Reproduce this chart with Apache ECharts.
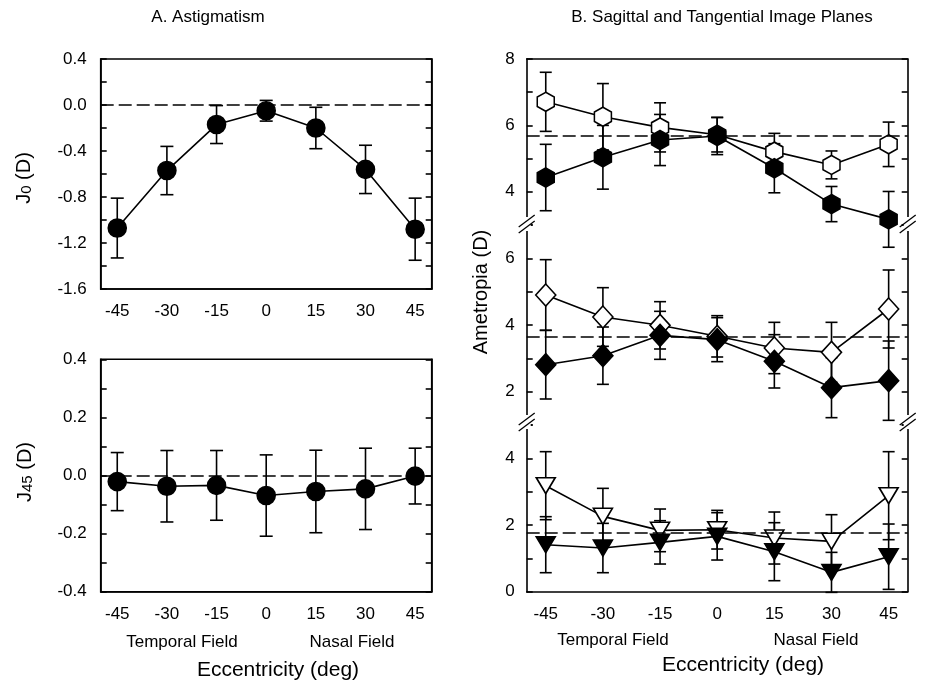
<!DOCTYPE html>
<html><head><meta charset="utf-8">
<script src="https://cdn.jsdelivr.net/npm/echarts@6/dist/echarts.min.js"></script>
<style>html,body{margin:0;padding:0;background:#fff}#c{width:929px;height:695px}</style>
</head><body><div id="c"></div>
<script>
// ---- data ----
const ecc = [-45, -30, -15, 0, 15, 30, 45];
const xTicks = [-45, -30, -15, 0, 15, 30, 45];
// Panel A
const j0 = [-1.07, -0.57, -0.17, -0.05, -0.20, -0.56, -1.08];
const j0Err = [0.26, 0.21, 0.165, 0.09, 0.18, 0.21, 0.27];
const j45 = [-0.021, -0.037, -0.034, -0.069, -0.055, -0.046, -0.002];
const j45Err = [0.10, 0.123, 0.12, 0.14, 0.142, 0.14, 0.096];
// Panel B (open = one image plane, filled = the other)
const hexOpen = [6.71, 6.26, 5.94, 5.72, 5.21, 4.81, 5.43];
const hexOpenErr = [0.89, 1.00, 0.74, 0.52, 0.55, 0.42, 0.67];
const hexFilled = [4.43, 5.04, 5.56, 5.68, 4.71, 3.63, 3.17];
const hexFilledErr = [1.00, 0.96, 0.77, 0.56, 0.74, 0.53, 0.84];
const diaOpen = [4.90, 4.24, 3.99, 3.66, 3.31, 3.18, 4.48];
const diaOpenErr = [1.06, 0.88, 0.71, 0.62, 0.77, 0.90, 1.17];
const diaFilled = [2.81, 3.08, 3.69, 3.56, 2.91, 2.12, 2.33];
const diaFilledErr = [1.03, 0.86, 0.72, 0.66, 0.80, 0.90, 1.19];
const triOpen = [3.18, 2.26, 1.84, 1.86, 1.61, 1.51, 2.88];
const triOpenErr = [1.02, 0.84, 0.64, 0.58, 0.78, 0.80, 1.32];
const triFilled = [1.41, 1.31, 1.48, 1.66, 1.20, 0.58, 1.05];
const triFilledErr = [0.84, 0.74, 0.65, 0.71, 0.87, 0.60, 0.98];
const refA = [0, 0];
const refB = [5.68, 3.64, 1.76];

// ---- layout ----
const FONT = 'Liberation Sans, Arial, sans-serif';
const LW = 1.6;
const LX = 100.7, LW_ = 331;
const RX = 526.7, RW = 381;
const grids = [
  {left: LX, top: 59, width: LW_, height: 230},
  {left: LX, top: 359.3, width: LW_, height: 232.4},
  {left: RX, top: 59, width: RW, height: 166},
  {left: RX, top: 225, width: RW, height: 200},
  {left: RX, top: 425, width: RW, height: 166.7}
];
const HEX = 'path://M0,-1 L0.866,-0.5 L0.866,0.5 L0,1 L-0.866,0.5 L-0.866,-0.5 Z';
const DTRI = 'path://M-1,-0.85 L1,-0.85 L0,0.85 Z';

const tickStyle = {show: true, inside: true, length: 6, lineStyle: {color: '#000', width: LW}};
const lineAx = {show: true, onZero: false, lineStyle: {color: '#000', width: LW}};
const labelStyle = {color: '#000', fontFamily: FONT, fontSize: 17};

function xAx(gi, opts) {
  return Object.assign({
    type: 'value', gridIndex: gi, min: -50, max: 50,
    axisLine: lineAx, axisTick: {show: false}, splitLine: {show: false},
    axisLabel: Object.assign({show: true, margin: 14, customValues: xTicks}, labelStyle)
  }, opts || {});
}
function fmtEvery(step, dec) {
  return function (v) {
    const k = Math.round(v / step * 1000) / 1000;
    if (Math.abs(k - Math.round(k)) > 1e-6) return '';
    if (Math.abs(v) < 1e-9) return dec ? (0).toFixed(dec) : '0';
    return dec ? v.toFixed(dec) : String(Math.round(v));
  };
}
function yAxPair(gi, min, max, interval, labStep, dec, margin) {
  return [
    {type: 'value', gridIndex: gi, position: 'left', min: min, max: max, interval: interval,
     axisLine: lineAx, axisTick: tickStyle, splitLine: {show: false},
     axisLabel: Object.assign({margin: margin, showMinLabel: true, showMaxLabel: true,
       formatter: fmtEvery(labStep, dec)}, labelStyle)},
    {type: 'value', gridIndex: gi, position: 'right', min: min, max: max, interval: interval,
     axisLine: lineAx, axisTick: tickStyle, splitLine: {show: false}, axisLabel: {show: false}}
  ];
}

function errSeries(xi, yi, ys, es, capW) {
  return {
    type: 'custom', xAxisIndex: xi, yAxisIndex: yi, z: 2, clip: false, silent: true,
    data: ecc.map((x, i) => [x, ys[i], es[i]]),
    encode: {x: 0, y: 1},
    renderItem: function (params, api) {
      const x = api.value(0), y = api.value(1), e = api.value(2);
      const t = api.coord([x, y + e]), b = api.coord([x, y - e]);
      const w = capW / 2;
      const st = {stroke: '#000', lineWidth: LW};
      return {type: 'group', children: [
        {type: 'line', shape: {x1: t[0], y1: t[1], x2: b[0], y2: b[1]}, style: st},
        {type: 'line', shape: {x1: t[0] - w, y1: t[1], x2: t[0] + w, y2: t[1]}, style: st},
        {type: 'line', shape: {x1: b[0] - w, y1: b[1], x2: b[0] + w, y2: b[1]}, style: st}
      ]};
    }
  };
}
function lineSeries(xi, yi, ys, symbol, size, fill, z, ref) {
  const s = {
    type: 'line', xAxisIndex: xi, yAxisIndex: yi, z: z, silent: true,
    data: ecc.map((x, i) => [x, ys[i]]),
    symbol: symbol, symbolSize: size, showAllSymbol: true,
    itemStyle: {color: fill, borderColor: '#000', borderWidth: LW, opacity: 1},
    lineStyle: {color: '#000', width: LW}
  };
  if (ref !== undefined) {
    s.markLine = {silent: true, symbol: 'none', label: {show: false},
      lineStyle: {color: '#000', width: LW, type: [13, 5]},
      data: [{yAxis: ref}]};
  }
  return s;
}

const xAxes = [
  xAx(0), xAx(1),
  xAx(2, {position: 'top', axisLabel: {show: false}}),
  xAx(3, {show: false}),
  xAx(4)
];
const yAxes = [].concat(
  yAxPair(0, -1.6, 0.4, 0.2, 0.4, 1, 14),
  yAxPair(1, -0.4, 0.4, 0.1, 0.2, 1, 14),
  yAxPair(2, 3, 8, 1, 2, 0, 12),
  yAxPair(3, 1, 7, 1, 2, 0, 12),
  yAxPair(4, 0, 5, 1, 2, 0, 12)
);

const series = [
  errSeries(0, 0, j0, j0Err, 13),
  lineSeries(0, 0, j0, 'circle', 18, '#000', 3, refA[0]),
  errSeries(1, 2, j45, j45Err, 13),
  lineSeries(1, 2, j45, 'circle', 18, '#000', 3, refA[1]),
  errSeries(2, 4, hexOpen, hexOpenErr, 12),
  errSeries(2, 4, hexFilled, hexFilledErr, 12),
  lineSeries(2, 4, hexOpen, HEX, [17, 19], '#fff', 3),
  lineSeries(2, 4, hexFilled, HEX, [17, 19], '#000', 4, refB[0]),
  errSeries(3, 6, diaOpen, diaOpenErr, 12),
  errSeries(3, 6, diaFilled, diaFilledErr, 12),
  lineSeries(3, 6, diaOpen, 'diamond', [20, 22], '#fff', 3),
  lineSeries(3, 6, diaFilled, 'diamond', [20, 22], '#000', 4, refB[1]),
  errSeries(4, 8, triOpen, triOpenErr, 12),
  errSeries(4, 8, triFilled, triFilledErr, 12),
  lineSeries(4, 8, triOpen, DTRI, [19, 16], '#fff', 3),
  lineSeries(4, 8, triFilled, DTRI, [19, 16], '#000', 4, refB[2])
];

// break marks on the right panel's vertical axes
const breakY = [224, 422];
const breakX = [RX, RX + RW];
const graphics = [];
breakY.forEach(function (yb) {
  breakX.forEach(function (xb) {
    graphics.push({type: 'rect', z: 100, shape: {x: xb - 4, y: yb - 7, width: 8, height: 14}, style: {fill: '#fff'}});
    [-3, 3].forEach(function (d) {
      graphics.push({type: 'line', z: 101, shape: {x1: xb - 8, y1: yb + 6 + d, x2: xb + 8, y2: yb - 6 + d},
        style: {stroke: '#000', lineWidth: 1.3}});
    });
  });
});
function txt(x, y, text, size, rot, extra) {
  return Object.assign({type: 'text', x: x, y: y, rotation: rot || 0, z: 110,
    style: {text: text, fill: '#000', font: size + 'px ' + FONT, align: 'center', verticalAlign: 'middle'}}, extra || {});
}
graphics.push(txt(208, 17, 'A. Astigmatism', 17));
graphics.push(txt(722, 17, 'B. Sagittal and Tangential Image Planes', 17));
graphics.push(txt(182, 642, 'Temporal Field', 17));
graphics.push(txt(352, 642, 'Nasal Field', 17));
graphics.push(txt(613, 640, 'Temporal Field', 17));
graphics.push(txt(816, 640, 'Nasal Field', 17));
graphics.push(txt(278, 670, 'Eccentricity (deg)', 21));
graphics.push(txt(743, 665, 'Eccentricity (deg)', 21));
graphics.push(txt(481, 292, 'Ametropia (D)', 20, Math.PI / 2));
graphics.push({type: 'text', x: 24, y: 178, rotation: Math.PI / 2, z: 110,
  style: {text: '{a|J}{b|0}{a| (D)}', align: 'center', verticalAlign: 'middle',
    rich: {a: {fontSize: 20, fontFamily: FONT, fill: '#000', color: '#000', verticalAlign: 'bottom'},
           b: {fontSize: 15, fontFamily: FONT, fill: '#000', color: '#000', verticalAlign: 'bottom'}}}});
graphics.push({type: 'text', x: 25, y: 472, rotation: Math.PI / 2, z: 110,
  style: {text: '{a|J}{b|45}{a| (D)}', align: 'center', verticalAlign: 'middle',
    rich: {a: {fontSize: 20, fontFamily: FONT, fill: '#000', color: '#000', verticalAlign: 'bottom'},
           b: {fontSize: 15, fontFamily: FONT, fill: '#000', color: '#000', verticalAlign: 'bottom'}}}});

const chart = echarts.init(document.getElementById('c'), null, {renderer: 'canvas'});
chart.setOption({
  animation: false,
  backgroundColor: '#fff',
  grid: grids.map(function (g, i) {
    return Object.assign({containLabel: false, show: i < 2, borderColor: '#000', borderWidth: LW, backgroundColor: 'transparent'}, g);
  }),
  xAxis: xAxes,
  yAxis: yAxes,
  series: series,
  graphic: graphics
});
</script>
</body></html>
